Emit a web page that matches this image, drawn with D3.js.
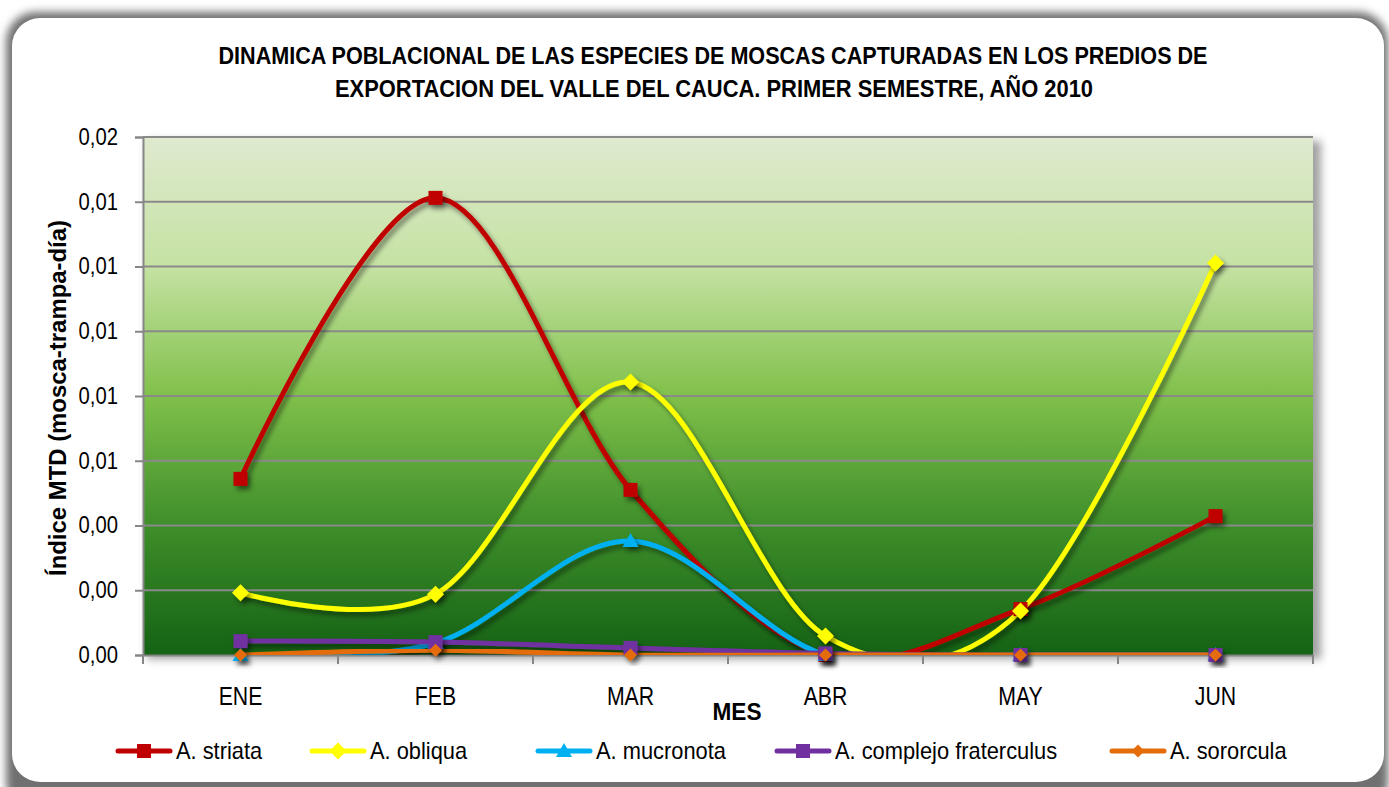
<!DOCTYPE html>
<html>
<head>
<meta charset="utf-8">
<script src="https://cdn.jsdelivr.net/npm/d3@7"></script>
<style>
  body { margin: 0; background: #ffffff; }
  svg { display: block; }
  text { font-family: "Liberation Sans", Arial, sans-serif; fill: #000; }
</style>
</head>
<body>
<svg id="chart"></svg>
<script>
// data
var months = ["ENE", "FEB", "MAR", "ABR", "MAY", "JUN"];
var striata = [0.00544, 0.01412, 0.0051, 0, 0.00142, 0.00429];
var obliqua = [0.00192, 0.00188, 0.00843, 0.00059, 0.00136, 0.01211];
var mucronota = [0, 0.00037, 0.00352, 0, 0, 0];
var fraterculus = [0.00043, 0.0004, 0.00022, 0.00005, 0, 0];
var sororcula = [0, 0.00015, 0, 0, 0, 0];
var yTicks = [0, 0.002, 0.004, 0.006, 0.008, 0.010, 0.012, 0.014, 0.016];

var series = [
    { name: "A. striata", values: striata, color: "#c00000", marker: "square", size: 14 },
    { name: "A. obliqua", values: obliqua, color: "#ffff00", marker: "diamond", size: 15 },
    { name: "A. mucronota", values: mucronota, color: "#00b0f0", marker: "triangle", size: 14 },
    { name: "A. complejo fraterculus", values: fraterculus, color: "#7030a0", marker: "square", size: 14 },
    { name: "A. sororcula", values: sororcula, color: "#e46c0a", marker: "diamond", size: 11 }
];

var W = 1389, H = 787;
var plot = { left: 143, right: 1313, top: 137, bottom: 655 };

// squeeze text horizontally so it looks like the narrow font of the original
function condense(sel, f) {
    sel.each(function () {
        var n = this.getComputedTextLength();
        d3.select(this).attr("textLength", n * f).attr("lengthAdjust", "spacingAndGlyphs");
    });
}

var svg = d3.select("#chart").attr("width", W).attr("height", H);
var defs = svg.append("defs");

var sh = defs.append("filter").attr("id", "shadow").attr("x", "-20%").attr("y", "-20%").attr("width", "140%").attr("height", "140%");
sh.append("feDropShadow").attr("dx", 3).attr("dy", 4).attr("stdDeviation", 2.5)
    .attr("flood-color", "#000").attr("flood-opacity", 0.45);

var frameSh = defs.append("filter").attr("id", "frameShadow").attr("x", "-5%").attr("y", "-5%").attr("width", "110%").attr("height", "110%");
frameSh.append("feGaussianBlur").attr("stdDeviation", 4);

var grad = defs.append("linearGradient").attr("id", "bg").attr("x1", 0).attr("y1", 0).attr("x2", 0).attr("y2", 1);
grad.append("stop").attr("offset", "0%").attr("stop-color", "#dfeacf");
grad.append("stop").attr("offset", "25%").attr("stop-color", "#c5e2a3");
grad.append("stop").attr("offset", "50%").attr("stop-color", "#80c04a");
grad.append("stop").attr("offset", "75%").attr("stop-color", "#3e8e2a");
grad.append("stop").attr("offset", "100%").attr("stop-color", "#146214");

defs.append("clipPath").attr("id", "plotClip").append("rect")
    .attr("x", plot.left).attr("y", plot.top - 10)
    .attr("width", plot.right - plot.left + 10).attr("height", plot.bottom - plot.top + 10);

// outer frame
svg.append("rect")
    .attr("x", 6).attr("y", 12).attr("width", 1382).attr("height", 800).attr("rx", 30)
    .attr("fill", "#6f6f6f").attr("filter", "url(#frameShadow)");
svg.append("rect")
    .attr("x", 12).attr("y", 18).attr("width", 1372).attr("height", 764).attr("rx", 28)
    .attr("fill", "#ffffff");

// title
var title1 = "DINAMICA POBLACIONAL DE LAS ESPECIES DE MOSCAS CAPTURADAS EN LOS PREDIOS DE";
var title2 = "EXPORTACION DEL VALLE DEL CAUCA. PRIMER SEMESTRE, AÑO 2010";
svg.append("text").attr("x", 713).attr("y", 64).attr("text-anchor", "middle")
    .attr("font-size", 23).attr("font-weight", "bold")
    .attr("textLength", 989).attr("lengthAdjust", "spacingAndGlyphs").text(title1);
svg.append("text").attr("x", 714).attr("y", 97).attr("text-anchor", "middle")
    .attr("font-size", 23).attr("font-weight", "bold")
    .attr("textLength", 758).attr("lengthAdjust", "spacingAndGlyphs").text(title2);

// scales
var x = d3.scaleBand().domain(months).range([plot.left, plot.right]).padding(0);
var y = d3.scaleLinear().domain([0, 0.016]).range([plot.bottom, plot.top]);
var cx = function (m) { return x(m) + x.bandwidth() / 2; };

// plot area shadow + background
svg.append("rect")
    .attr("x", plot.left + 4).attr("y", plot.top + 4)
    .attr("width", plot.right - plot.left + 4).attr("height", plot.bottom - plot.top)
    .attr("fill", "#888").attr("filter", "url(#frameShadow)").attr("opacity", 0.8);
svg.append("rect")
    .attr("x", plot.left).attr("y", plot.top)
    .attr("width", plot.right - plot.left).attr("height", plot.bottom - plot.top)
    .attr("fill", "url(#bg)");

// gridlines
svg.append("g").selectAll("line").data(yTicks.slice(1)).enter().append("line")
    .attr("x1", plot.left).attr("x2", plot.right)
    .attr("y1", function (d) { return y(d); }).attr("y2", function (d) { return y(d); })
    .attr("stroke", "#8a8a8a").attr("stroke-width", 2);

// y axis
var fmt = function (d) { return d3.format(".2f")(d).replace(".", ","); };
var yAxis = svg.append("g")
    .attr("transform", "translate(" + plot.left + ",0)")
    .call(d3.axisLeft(y).tickValues(yTicks).tickFormat(fmt).tickSize(8).tickPadding(17));
yAxis.select(".domain").attr("stroke", "#868686").attr("stroke-width", 2);
yAxis.selectAll(".tick line").attr("stroke", "#868686").attr("stroke-width", 2);
yAxis.selectAll(".tick text").attr("font-size", 23).attr("font-family", "Liberation Sans, Arial, sans-serif")
    .call(condense, 0.88);

// x axis
var xAxis = svg.append("g")
    .attr("transform", "translate(0," + plot.bottom + ")")
    .call(d3.axisBottom(x).tickSize(0).tickPadding(32));
xAxis.select(".domain").attr("stroke", "#868686").attr("stroke-width", 2);
xAxis.selectAll(".tick text").attr("font-size", 25).attr("font-family", "Liberation Sans, Arial, sans-serif")
    .call(condense, 0.85);
var edges = months.map(function (m) { return x(m); }).concat([plot.right]);
xAxis.selectAll(".edge").data(edges).enter().append("line")
    .attr("x1", function (d) { return d; }).attr("x2", function (d) { return d; })
    .attr("y1", 0).attr("y2", 9).attr("stroke", "#868686").attr("stroke-width", 2);

// axis titles
svg.append("text").attr("x", 737).attr("y", 720).attr("text-anchor", "middle")
    .attr("font-size", 24).attr("font-weight", "bold")
    .attr("textLength", 49).attr("lengthAdjust", "spacingAndGlyphs").text("MES");
svg.append("text").attr("transform", "translate(66,398) rotate(-90)").attr("text-anchor", "middle")
    .attr("font-size", 24).attr("font-weight", "bold")
    .attr("textLength", 356).attr("lengthAdjust", "spacingAndGlyphs")
    .text("Índice MTD (mosca-trampa-día)");

// markers
function markerPath(type, s) {
    var h = s / 2;
    if (type === "square") return "M" + (-h) + "," + (-h) + "H" + h + "V" + h + "H" + (-h) + "Z";
    if (type === "diamond") return "M0," + (-h - 1) + "L" + (h + 1) + ",0L0," + (h + 1) + "L" + (-h - 1) + ",0Z";
    return "M0," + (-h - 1) + "L" + (h + 1) + "," + (h - 1) + "L" + (-h - 1) + "," + (h - 1) + "Z";
}

var line = d3.line()
    .x(function (d, i) { return cx(months[i]); })
    .y(function (d) { return y(d); })
    .curve(d3.curveCardinal.tension(0));

var lines = svg.append("g").attr("clip-path", "url(#plotClip)");
series.forEach(function (s) {
    var g = lines.append("g").attr("filter", "url(#shadow)");
    g.append("path").datum(s.values)
        .attr("d", line)
        .attr("fill", "none").attr("stroke", s.color).attr("stroke-width", 5)
        .attr("stroke-linejoin", "round").attr("stroke-linecap", "round");
});
series.forEach(function (s) {
    svg.append("g").attr("filter", "url(#shadow)")
        .selectAll("path").data(s.values).enter().append("path")
        .attr("transform", function (d, i) { return "translate(" + cx(months[i]) + "," + y(d) + ")"; })
        .attr("d", markerPath(s.marker, s.size))
        .attr("fill", s.color);
});

// legend
var legendX = [117, 311, 537, 776, 1111];
var legend = svg.append("g");
series.forEach(function (s, i) {
    var g = legend.append("g").attr("transform", "translate(" + legendX[i] + ",751)");
    g.append("line").attr("x1", 1).attr("x2", 53).attr("y1", 0).attr("y2", 0)
        .attr("stroke", s.color).attr("stroke-width", 5).attr("stroke-linecap", "round");
    g.append("path").attr("transform", "translate(27,0)")
        .attr("d", markerPath(s.marker, s.size)).attr("fill", s.color);
    g.append("text").attr("x", 59).attr("y", 8).attr("font-size", 24).text(s.name)
        .call(condense, 0.91);
});
</script>
</body>
</html>
